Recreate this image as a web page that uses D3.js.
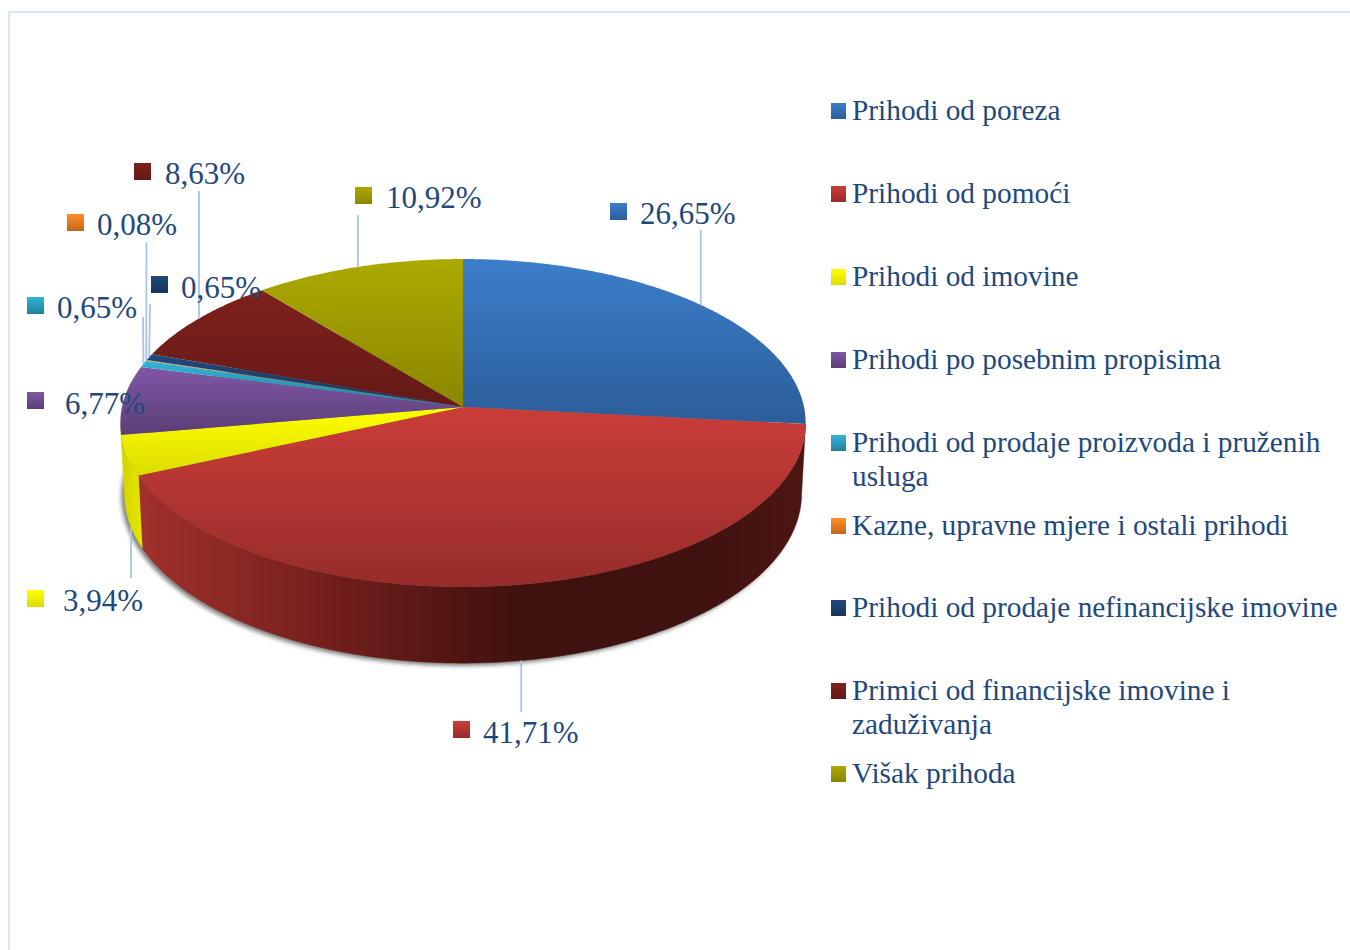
<!DOCTYPE html>
<html>
<head>
<meta charset="utf-8">
<script src="https://cdn.jsdelivr.net/npm/d3@7"></script>
<style>
html,body{margin:0;padding:0;background:#fff;}
svg{display:block;}
text{font-family:"Liberation Serif","Times New Roman",serif;fill:#1f497d;}
</style>
</head>
<body>
<svg id="chart" width="1350" height="950"></svg>
<script>
// Data
const categories = [
  ["Prihodi od poreza"],
  ["Prihodi od pomoći"],
  ["Prihodi od imovine"],
  ["Prihodi po posebnim propisima"],
  ["Prihodi od prodaje proizvoda i pruženih","usluga"],
  ["Kazne, upravne mjere i ostali prihodi"],
  ["Prihodi od prodaje nefinancijske imovine"],
  ["Primici od financijske imovine i","zaduživanja"],
  ["Višak prihoda"]
];
const values = [26.65, 41.71, 3.94, 6.77, 0.65, 0.08, 0.65, 8.63, 10.92];
const valueLabels = ["26,65%","41,71%","3,94%","6,77%","0,65%","0,08%","0,65%","8,63%","10,92%"];

// Styles
const colorsLight = ["#3c7ecb","#cb3d39","#ffff00","#8058a6","#33b4d8","#ff9028","#20497e","#7f211d","#aca900"];
const colorsDark  = ["#2b5d99","#962c2a","#dcdc00","#5a3e76","#22809c","#c4661a","#17355c","#641916","#8a8700"];

// Label layout: [swatch x, swatch y, text x, baseline y, leader tip x (null = vertical), leader tip y]
const labelLayout = [
  [610,203,640,223.5,null,230],
  [453,721,483,742.5,null,712],
  [27,590,63,610.5,null,578],
  [27,392,65,414,null,null],
  [27,297,57,317.5,143,317],
  [67,214,97,235,146.5,242],
  [151,276,181,297.5,150,304],
  [134,163,165,184,null,191],
  [355,187,386,208,null,215]
];
// Legend row baselines
const legendBaselines = [120,203,286,369,452,535,617,700,783];

const svg = d3.select("#chart");
const defs = svg.append("defs");

// frame
svg.append("path").attr("d","M9,950V12H1350").attr("fill","none").attr("stroke","#d9e4f4").attr("stroke-width",2);

// Perspective projection of the pie disc
const cx = 463, k = 0.0975;
const topDisc = {cy:407, R:341, S:162.4};
const botDisc = {cy:477, R:337, S:168};
function proj(disc, a){
  const u = Math.sin(a), v = Math.cos(a), d = 1 + k*v;
  return [cx + disc.R*u/d, disc.cy - disc.S*v/d];
}
function arcPts(disc, a0, a1){
  const n = Math.max(2, Math.ceil(Math.abs(a1-a0)/0.01));
  return d3.range(n+1).map(i => proj(disc, a0 + (a1-a0)*i/n));
}
const lineGen = d3.line();
const arcs = d3.pie().sort(null).value(d=>d)(values);

// Gradients
values.forEach((v,i)=>{
  const g = defs.append("linearGradient").attr("id","g"+i).attr("x1",0).attr("y1",0).attr("x2",0).attr("y2",1);
  g.append("stop").attr("offset","0%").attr("stop-color",colorsLight[i]);
  g.append("stop").attr("offset","100%").attr("stop-color",colorsDark[i]);
});
const sideG = defs.append("linearGradient").attr("id","sideRed").attr("gradientUnits","userSpaceOnUse")
  .attr("x1",138).attr("x2",806).attr("y1",0).attr("y2",0);
[[0,"#a2302c"],[0.12,"#8e2a26"],[0.3,"#711e1b"],[0.5,"#4c1411"],[0.58,"#3f110f"],[0.85,"#401210"],[1,"#4d1512"]]
  .forEach(s=>sideG.append("stop").attr("offset",s[0]).attr("stop-color",s[1]));
const sideY = defs.append("linearGradient").attr("id","sideYellow").attr("x1",0).attr("x2",1).attr("y1",0).attr("y2",0);
sideY.append("stop").attr("offset","0%").attr("stop-color","#d2d200");
sideY.append("stop").attr("offset","100%").attr("stop-color","#e6e600");
const blur = defs.append("filter").attr("id","shadow").attr("x","-5%").attr("y","-5%").attr("width","110%").attr("height","110%");
blur.append("feGaussianBlur").attr("stdDeviation",2.2);

// Shadow under the disc
svg.append("path")
  .attr("d", lineGen(arcPts(botDisc,0,2*Math.PI))+"Z")
  .attr("transform","translate(-3,2.5)")
  .attr("fill","#7d7d7d").attr("filter","url(#shadow)");

// Front wall: each slice facing the viewer
function wall(a0,a1,fill){
  const pts = arcPts(topDisc,a0,a1).concat(arcPts(botDisc,a1,a0));
  svg.append("path").attr("d",lineGen(pts)+"Z").attr("fill",fill).attr("stroke",fill).attr("stroke-width",0.4);
}
wall(arcs[1].startAngle, arcs[1].endAngle, "url(#sideRed)");
wall(arcs[2].startAngle, arcs[2].endAngle + 0.06, "url(#sideYellow)");

// Top surface
arcs.forEach((d,i)=>{
  const pts = [[cx,topDisc.cy]].concat(arcPts(topDisc,d.startAngle,d.endAngle));
  svg.append("path").attr("d",lineGen(pts)+"Z").attr("fill","url(#g"+i+")");
});

// Leaders
arcs.forEach((d,i)=>{
  const l = labelLayout[i];
  if(l[5]===null) return;
  const mid = (d.startAngle+d.endAngle)/2;
  const onFront = i===1 || i===2;
  const p = proj(onFront?botDisc:topDisc, mid);
  svg.append("line").attr("x1",p[0]).attr("y1",p[1])
    .attr("x2",l[4]===null?p[0]:l[4]).attr("y2",l[5])
    .attr("stroke","#a9c4e8").attr("stroke-width",1.8);
});

// Data labels
values.forEach((v,i)=>{
  const l = labelLayout[i];
  svg.append("rect").attr("x",l[0]).attr("y",l[1]).attr("width",17).attr("height",17).attr("fill","url(#g"+i+")");
  svg.append("text").attr("x",l[2]).attr("y",l[3]).attr("font-size",31).text(valueLabels[i]);
});

// Legend
categories.forEach((c,i)=>{
  const y = legendBaselines[i];
  svg.append("rect").attr("x",831).attr("y",y-17).attr("width",15).attr("height",16).attr("fill","url(#g"+i+")");
  c.forEach((t,j)=>{
    svg.append("text").attr("x",852).attr("y",y+j*33.5).attr("font-size",29.33).text(t);
  });
});
</script>
</body>
</html>
